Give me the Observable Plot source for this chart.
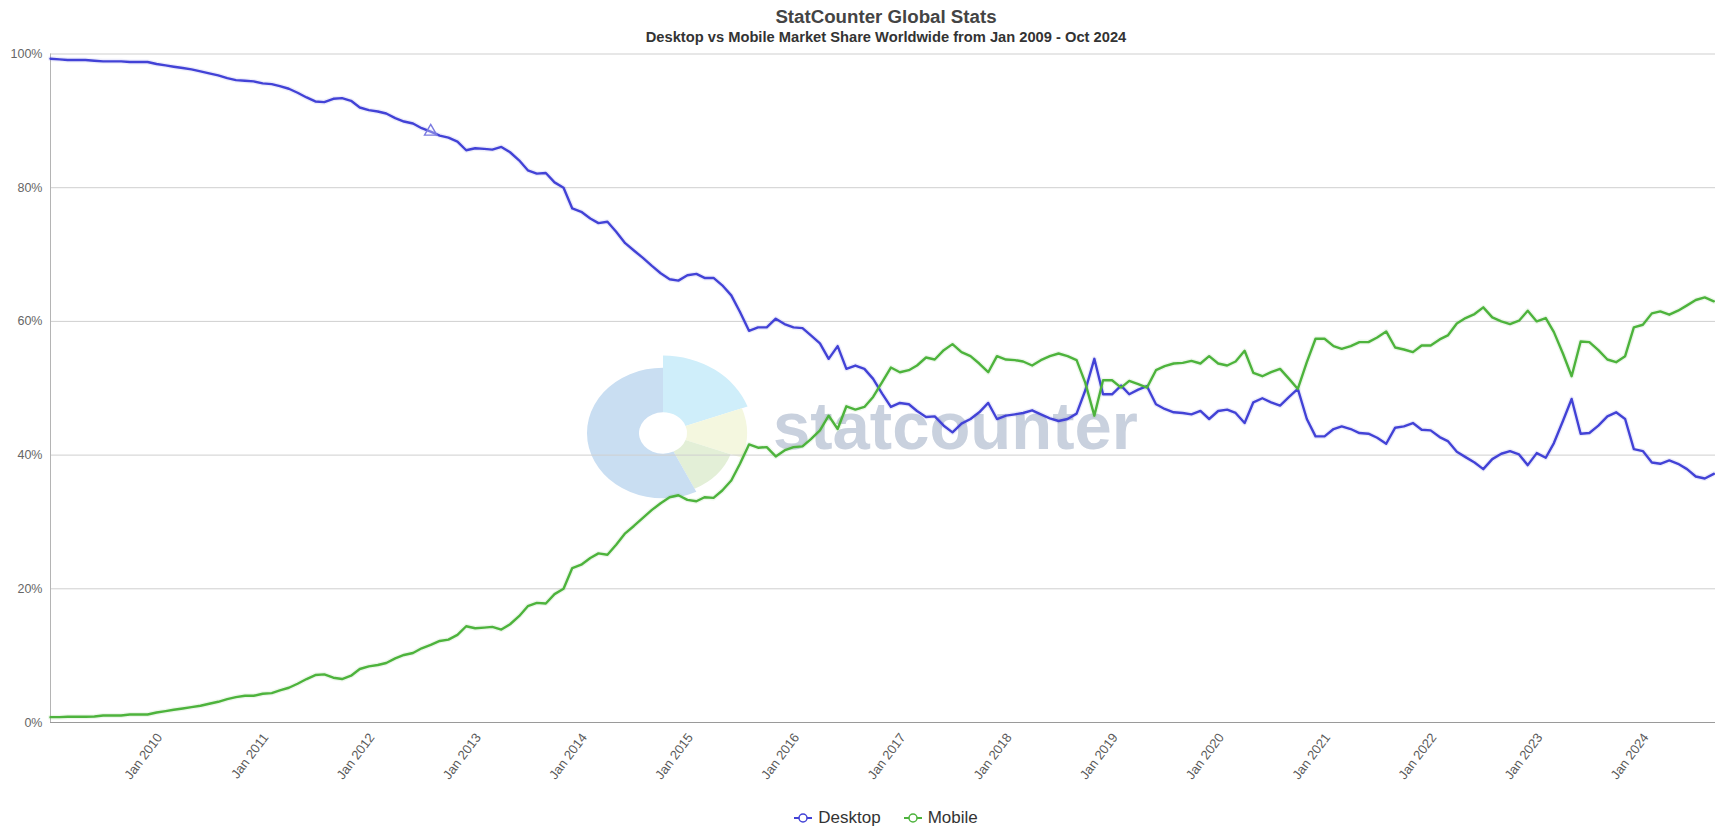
<!DOCTYPE html>
<html>
<head>
<meta charset="utf-8">
<script src="https://cdn.jsdelivr.net/npm/d3@7"></script>
<script src="https://cdn.jsdelivr.net/npm/@observablehq/plot@0.6"></script>
<style>
html, body { margin: 0; padding: 0; background: #fff; overflow: hidden; }
#wrap { position: relative; width: 1772px; height: 827px; font-family: "Liberation Sans", Arial, Helvetica, sans-serif; }
#head { position: relative; height: 48px; z-index: 2; }
#title { position: absolute; left: 0; right: 0; top: 8.4px; text-align: center; font-size: 18.7px; line-height: 18.7px; font-weight: bold; color: #444; white-space: nowrap; }
#subtitle { position: absolute; left: 0; right: 0; top: 29.8px; text-align: center; font-size: 14.7px; line-height: 14.7px; font-weight: bold; color: #333; white-space: nowrap; }
#mark { position: absolute; left: 0; top: 0; z-index: 0; pointer-events: none; }
#chart { position: relative; z-index: 1; }
#chart svg { max-width: none; background: transparent; }
#legend { position: relative; z-index: 1; display: flex; justify-content: center; height: 20px; line-height: 20px; font-size: 17px; color: #333; }
.item { display: flex; align-items: center; }
.item + .item { margin-left: 23px; }
.item svg { margin-right: 6px; }
</style>
</head>
<body>
<div id="wrap">
  <svg id="mark" width="1772" height="827"></svg>
  <div id="head">
    <div id="title">StatCounter Global Stats</div>
    <div id="subtitle">Desktop vs Mobile Market Share Worldwide from Jan 2009 - Oct 2024</div>
  </div>
  <div id="chart"></div>
  <div id="legend"></div>
</div>
<script>
// ---- data (monthly, Jan 2009 onward, % share) ----
const series = ["Desktop", "Mobile"];
const colors = ["#4242d6", "#4db33c"];
const startYear = 2009;
const endLabel = [2024, 9]; // Oct 2024 (domain end)

const desktop = [
  99.3,99.2,99.1,99.1,99.1,99.0,98.9,98.9,98.9,98.8,98.8,98.8,
  98.5,98.3,98.1,97.9,97.7,97.4,97.1,96.8,96.4,96.1,96.0,95.9,
  95.6,95.5,95.2,94.8,94.2,93.5,92.9,92.8,93.3,93.4,93.0,92.0,
  91.6,91.4,91.1,90.4,89.9,89.6,88.9,88.4,87.8,87.5,86.9,85.6,
  85.9,85.8,85.7,86.1,85.3,84.1,82.6,82.1,82.2,80.8,80.0,76.9,
  76.4,75.4,74.7,74.9,73.4,71.7,70.6,69.5,68.3,67.2,66.3,66.1,
  66.9,67.1,66.5,66.5,65.4,63.9,61.4,58.6,59.1,59.1,60.4,59.6,
  59.1,59.0,57.9,56.7,54.4,56.3,52.9,53.4,52.9,51.4,49.2,47.2,
  47.8,47.6,46.6,45.7,45.8,44.4,43.4,44.7,45.4,46.4,47.8,45.4,
  45.9,46.1,46.3,46.7,46.1,45.5,45.1,45.4,46.2,49.7,54.4,49.1,
  49.1,50.4,49.1,49.8,50.3,47.6,46.9,46.4,46.3,46.1,46.6,45.4,
  46.6,46.8,46.3,44.8,47.9,48.5,47.9,47.4,48.7,49.9,45.4,42.8,
  42.8,43.9,44.3,43.9,43.3,43.2,42.6,41.7,44.1,44.3,44.8,43.8,
  43.7,42.7,42.1,40.5,39.7,38.9,37.9,39.4,40.2,40.6,40.1,38.5,
  40.3,39.6,41.8,45.1,48.4,43.2,43.3,44.4,45.8,46.4,45.4,40.9,
  40.6,38.9,38.7,39.2,38.7,37.9,36.8,36.5,37.2
];

const mobile = [
  0.8,0.8,0.85,0.85,0.85,0.9,1.05,1.05,1.05,1.2,1.2,1.2,
  1.5,1.7,1.9,2.1,2.3,2.5,2.8,3.1,3.5,3.8,4.0,4.0,
  4.3,4.4,4.8,5.2,5.8,6.5,7.1,7.2,6.7,6.5,7.0,8.0,
  8.4,8.6,8.9,9.6,10.1,10.4,11.1,11.6,12.2,12.4,13.1,14.4,
  14.1,14.2,14.3,13.9,14.7,15.9,17.4,17.9,17.8,19.2,20.0,23.1,
  23.6,24.6,25.3,25.1,26.6,28.3,29.4,30.6,31.8,32.8,33.7,34.0,
  33.3,33.1,33.7,33.6,34.7,36.2,38.7,41.6,41.1,41.2,39.8,40.7,
  41.2,41.3,42.4,43.7,45.9,43.9,47.3,46.8,47.2,48.7,50.9,53.1,
  52.4,52.7,53.4,54.6,54.3,55.7,56.6,55.4,54.8,53.7,52.4,54.8,
  54.3,54.2,54.0,53.4,54.2,54.8,55.2,54.8,54.2,50.8,45.9,51.2,
  51.2,50.1,51.1,50.6,50.1,52.7,53.3,53.7,53.8,54.1,53.7,54.8,
  53.7,53.4,54.0,55.6,52.3,51.8,52.4,52.9,51.4,49.9,53.9,57.4,
  57.4,56.3,55.9,56.3,56.9,56.9,57.6,58.5,56.1,55.8,55.4,56.4,
  56.4,57.3,57.9,59.7,60.5,61.1,62.1,60.6,60.0,59.6,60.1,61.6,
  60.0,60.5,58.4,55.2,51.8,57.0,56.9,55.7,54.3,53.9,54.8,59.1,
  59.5,61.2,61.5,61.0,61.6,62.4,63.2,63.6,63.0
];

const yTicks = [0, 20, 40, 60, 80, 100];
const xTickYears = [2010,2011,2012,2013,2014,2015,2016,2017,2018,2019,2020,2021,2022,2023,2024];
const markerIndex = 43; // hover marker on Desktop (Aug 2012)

// ---- build table ----
const monthDate = i => new Date(Date.UTC(startYear, i, 1));
const rows = [];
desktop.forEach((v, i) => rows.push({date: monthDate(i), value: v, series: "Desktop", i}));
mobile.forEach((v, i) => rows.push({date: monthDate(i), value: v, series: "Mobile", i}));
const xStart = new Date(Date.UTC(startYear, 0, 1));
const xEnd = new Date(Date.UTC(endLabel[0], endLabel[1], 1));
const xTicks = xTickYears.map(y => new Date(Date.UTC(y, 0, 1)));

const chart = Plot.plot({
  width: 1772,
  height: 760,
  marginTop: 5.5,
  marginBottom: 86,
  marginLeft: 50,
  marginRight: 50,
  style: {background: "transparent", maxWidth: "none", fontFamily: '"Liberation Sans", Arial, Helvetica, sans-serif'},
  x: {type: "utc", domain: [xStart, xEnd], axis: null},
  y: {domain: [0, 100], axis: null},
  color: {domain: series, range: colors},
  marks: [
    Plot.gridY(yTicks.filter(t => t > 0), {stroke: "#cfcfcf", strokeOpacity: 1}),
    Plot.ruleX([xStart], {stroke: "#b4b4b4"}),
    Plot.ruleY([0], {stroke: "#9a9a9a"}),
    Plot.axisY({ticks: yTicks, tickFormat: d => d + "%", tickSize: 0, tickPadding: 8, fontSize: 12.5, fill: "#666", label: null}),
    Plot.text(xTicks, {x: d => d, frameAnchor: "bottom", text: d => "Jan " + d.getUTCFullYear(),
      rotate: -53, textAnchor: "end", lineAnchor: "middle", dx: 3, dy: 12.5, fontSize: 13, fill: "#595959"}),
    Plot.lineY(rows, {x: "date", y: "value", z: "series", stroke: "series", strokeWidth: 5, strokeOpacity: 0.1}),
    Plot.lineY(rows, {x: "date", y: "value", z: "series", stroke: "series", strokeWidth: 2.4, strokeLinejoin: "round"}),
    Plot.dot(rows.filter(d => d.series === "Desktop" && d.i === markerIndex),
      {x: "date", y: "value", symbol: "triangle", r: 4.6, stroke: "#7b7be0", strokeWidth: 1.4, fill: "white", fillOpacity: 0.3})
  ]
});
document.getElementById("chart").appendChild(chart);

// ---- legend ----
const legend = d3.select("#legend");
series.forEach((s, k) => {
  const it = legend.append("div").attr("class", "item");
  const sv = it.append("svg").attr("width", 18).attr("height", 12);
  sv.append("line").attr("x1", 0).attr("x2", 18).attr("y1", 6).attr("y2", 6).attr("stroke", colors[k]).attr("stroke-width", 2);
  sv.append("circle").attr("cx", 9).attr("cy", 6).attr("r", 4).attr("fill", "white").attr("stroke", colors[k]).attr("stroke-width", 1.5);
  it.append("span").text(s);
});

// ---- decorative watermark (statcounter logo) ----
const wm = d3.select("#mark");
const logo = wm.append("g").attr("transform", "translate(663,433) scale(1,0.86)");
const deg = Math.PI / 180;
const segs = [
  {a0: 0, a1: 70, r: 90, c: "#cfeefa"},
  {a0: 70, a1: 110, r: 84, c: "#f4f7df"},
  {a0: 110, a1: 154, r: 72, c: "#e3efd7"},
  {a0: 154, a1: 360, r: 76, c: "#c9def2"}
];
segs.forEach(s => {
  logo.append("path")
    .attr("d", d3.arc()({innerRadius: 24, outerRadius: s.r, startAngle: s.a0 * deg, endAngle: s.a1 * deg}))
    .attr("fill", s.c);
});
wm.append("text").attr("x", 773).attr("y", 449)
  .attr("font-family", '"Liberation Sans", Arial, sans-serif').attr("font-weight", "bold").attr("font-size", 67)
  .attr("fill", "#c9d1de").text("statcounter");
</script>
</body>
</html>
